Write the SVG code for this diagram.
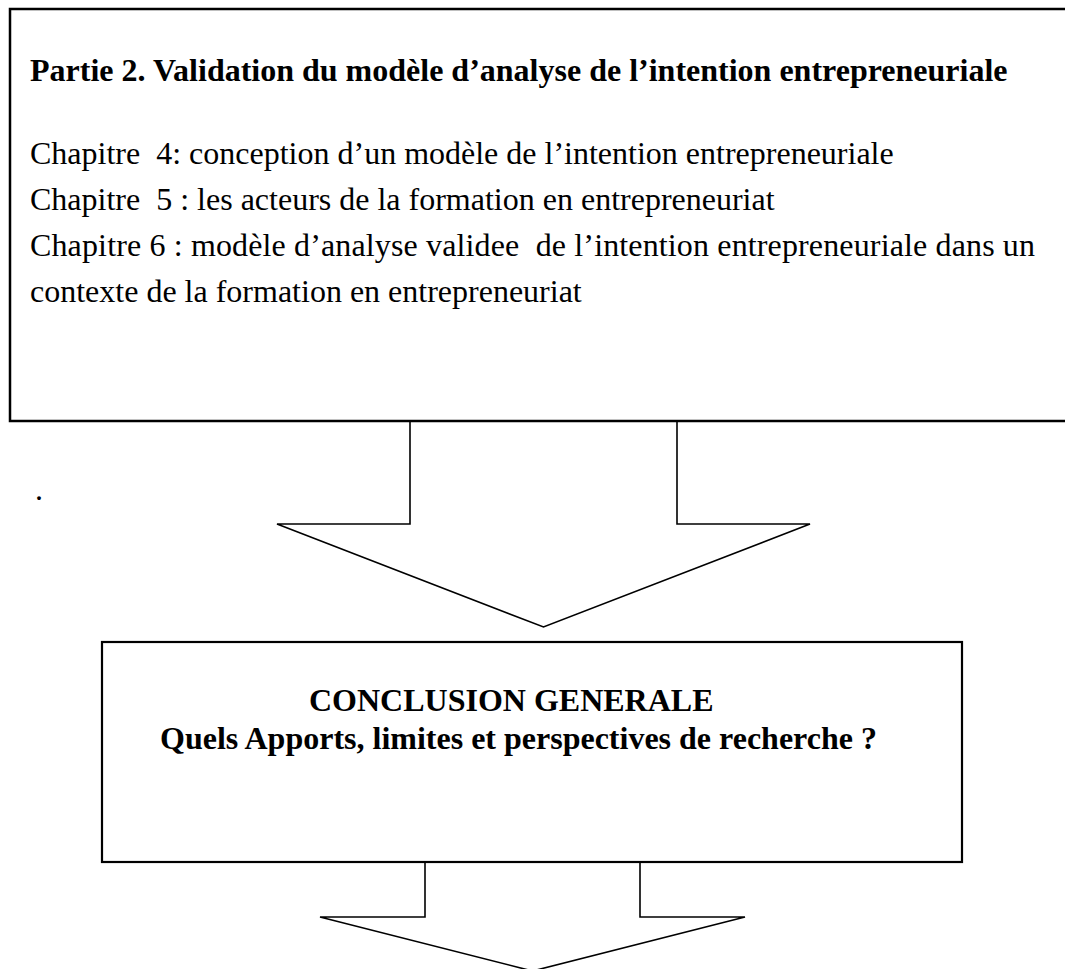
<svg xmlns="http://www.w3.org/2000/svg" width="1065" height="969" viewBox="0 0 1065 969">
<style>
.box{fill:#fff;stroke:#000;stroke-width:2.5}
.arrow{fill:#fff;stroke:#000;stroke-width:1.6;stroke-linejoin:miter}
.t{font-family:"Liberation Serif","Times New Roman",serif;font-size:32px;fill:#000}
.b{font-weight:bold}
</style>
<rect width="1065" height="969" fill="#fff"/>
<g id="connectors">
<polygon class="arrow" points="410,421 410,524 277,524 543.5,627 810,524 677,524 677,421"/>
<polygon class="arrow" points="425,862 425,917 320,917 532.5,971 745,917 640,917 640,862"/>
</g>
<g id="partie2">
<rect class="box" x="10" y="9" width="1070" height="412"/>
<text class="t b" x="30" y="81" xml:space="preserve">Partie 2. Validation du modèle d’analyse de l’intention entrepreneuriale</text>
<text class="t" x="30" y="164" xml:space="preserve">Chapitre  4: conception d’un modèle de l’intention entrepreneuriale</text>
<text class="t" x="30" y="210" xml:space="preserve">Chapitre  5 : les acteurs de la formation en entrepreneuriat</text>
<text class="t" x="30" y="256" xml:space="preserve" textLength="1005" lengthAdjust="spacing">Chapitre 6 : modèle d’analyse validee  de l’intention entrepreneuriale dans un</text>
<text class="t" x="30" y="302" xml:space="preserve">contexte de la formation en entrepreneuriat</text>
</g>
<text class="t" x="35" y="500" font-size="20">.</text>
<g id="conclusion">
<rect class="box" x="102" y="642" width="860" height="220" style="stroke-width:2.2"/>
<text class="t b" x="309" y="711">CONCLUSION GENERALE</text>
<text class="t b" x="160" y="749">Quels Apports, limites et perspectives de recherche ?</text>
</g>
</svg>
